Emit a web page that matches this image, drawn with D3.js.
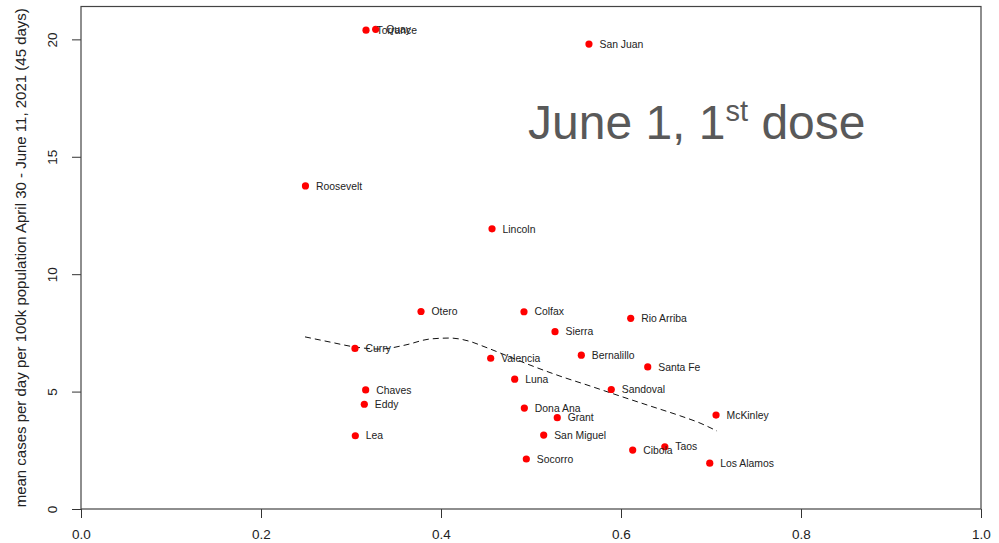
<!DOCTYPE html>
<html>
<head>
<meta charset="utf-8">
<script src="https://cdn.jsdelivr.net/npm/d3@7"></script>
<style>
  html, body { margin: 0; padding: 0; background: #fff; }
  svg { display: block; font-family: "Liberation Sans", Arial, sans-serif; }
</style>
</head>
<body>
<svg id="chart" width="999" height="543"></svg>
<script>
// County names, first-dose coverage on June 1 and mean daily cases per 100k
const counties = ["Torrance", "Quay", "San Juan", "Roosevelt", "Lincoln", "Otero", "Colfax",
  "Rio Arriba", "Sierra", "Curry", "Valencia", "Bernalillo", "Santa Fe", "Luna", "Sandoval",
  "Chaves", "Eddy", "Dona Ana", "Grant", "McKinley", "Lea", "San Miguel", "Cibola", "Taos",
  "Socorro", "Los Alamos"];
const firstDose = [0.3167, 0.3274, 0.5644, 0.2494, 0.4567, 0.3778, 0.4922,
  0.6108, 0.5267, 0.3044, 0.4552, 0.5559, 0.6297, 0.4819, 0.5892,
  0.3163, 0.3148, 0.4926, 0.5292, 0.7056, 0.3048, 0.5141, 0.6130, 0.6487,
  0.4948, 0.6986];
const casesPer100k = [20.39, 20.43, 19.80, 13.76, 11.93, 8.41, 8.40,
  8.12, 7.55, 6.84, 6.42, 6.55, 6.05, 5.53, 5.09,
  5.07, 4.46, 4.30, 3.89, 4.00, 3.12, 3.15, 2.51, 2.65,
  2.13, 1.95];

// Smoothed trend (loess) through the counties
const trendX = [0.2489, 0.2767, 0.3044, 0.3322, 0.36, 0.3878, 0.41, 0.43, 0.4489,
  0.4711, 0.4989, 0.5322, 0.5656, 0.5989, 0.6322, 0.6656, 0.6878, 0.7067];
const trendY = [7.33, 7.11, 6.90, 6.81, 6.98, 7.24, 7.28, 7.16, 6.90,
  6.56, 6.13, 5.66, 5.24, 4.81, 4.39, 3.97, 3.66, 3.32];

const xTicks = [0, 0.2, 0.4, 0.6, 0.8, 1.0];
const yTicks = [0, 5, 10, 15, 20];

const svg = d3.select("#chart");
const plot = { left: 81, right: 981, top: 6.5, bottom: 509 };

const x = d3.scaleLinear().domain([0, 1]).range([plot.left, plot.right]);
const y = d3.scaleLinear().domain([0, 21.4]).range([plot.bottom, plot.top]);

// x axis
const xAxis = d3.axisBottom(x).tickValues(xTicks).tickSize(9).tickPadding(11)
  .tickFormat(d3.format(".1f"));
const gx = svg.append("g").attr("transform", `translate(0,${plot.bottom})`).call(xAxis);
gx.select(".domain").remove();
gx.selectAll(".tick line").attr("stroke", "#333");
gx.selectAll(".tick text").attr("font-size", 13.5).attr("fill", "#222")
  .attr("font-family", "Liberation Sans, Arial, sans-serif");

// y axis with rotated labels
const yAxis = d3.axisLeft(y).tickValues(yTicks).tickSize(9).tickFormat(d3.format("d"));
const gy = svg.append("g").attr("transform", `translate(${plot.left},0)`).call(yAxis);
gy.select(".domain").remove();
gy.selectAll(".tick line").attr("stroke", "#333");
gy.selectAll(".tick text")
  .attr("font-size", 13.5).attr("fill", "#222")
  .attr("font-family", "Liberation Sans, Arial, sans-serif")
  .attr("x", null).attr("dy", null)
  .attr("text-anchor", "middle")
  .attr("transform", "translate(-24,0) rotate(-90)");

// plot frame
svg.append("rect")
  .attr("x", plot.left).attr("y", plot.top)
  .attr("width", plot.right - plot.left).attr("height", plot.bottom - plot.top)
  .attr("fill", "none").attr("stroke", "#444").attr("stroke-width", 1.2);

// y axis title
svg.append("text")
  .attr("transform", `translate(26,${(plot.top + plot.bottom) / 2}) rotate(-90)`)
  .attr("text-anchor", "middle")
  .attr("font-size", 15)
  .attr("fill", "#222")
  .text("mean cases per day per 100k population April 30 - June 11, 2021 (45 days)");

// trend line
const trend = trendX.map((d, i) => [d, trendY[i]]);
svg.append("path")
  .datum(trend)
  .attr("d", d3.line().x(d => x(d[0])).y(d => y(d[1])).curve(d3.curveMonotoneX))
  .attr("fill", "none").attr("stroke", "#111").attr("stroke-width", 1)
  .attr("stroke-dasharray", "6,4");

// points and labels
const pts = counties.map((name, i) => ({ name, vx: firstDose[i], vy: casesPer100k[i] }));
svg.append("g").selectAll("circle").data(pts).join("circle")
  .attr("cx", d => x(d.vx)).attr("cy", d => y(d.vy))
  .attr("r", 3.6).attr("fill", "#ff0000");

svg.append("g").selectAll("text").data(pts).join("text")
  .attr("x", d => x(d.vx) + 10.5).attr("y", d => y(d.vy))
  .attr("dy", "0.35em")
  .attr("font-size", 10.4).attr("fill", "#222")
  .text(d => d.name);

// annotation
const note = svg.append("text")
  .attr("x", 528).attr("y", 139)
  .attr("font-size", 48).attr("fill", "#595959");
note.append("tspan").text("June 1, 1");
note.append("tspan").attr("font-size", 29).attr("dy", -18).text("st");
note.append("tspan").attr("dy", 18).text(" dose");
</script>
</body>
</html>
